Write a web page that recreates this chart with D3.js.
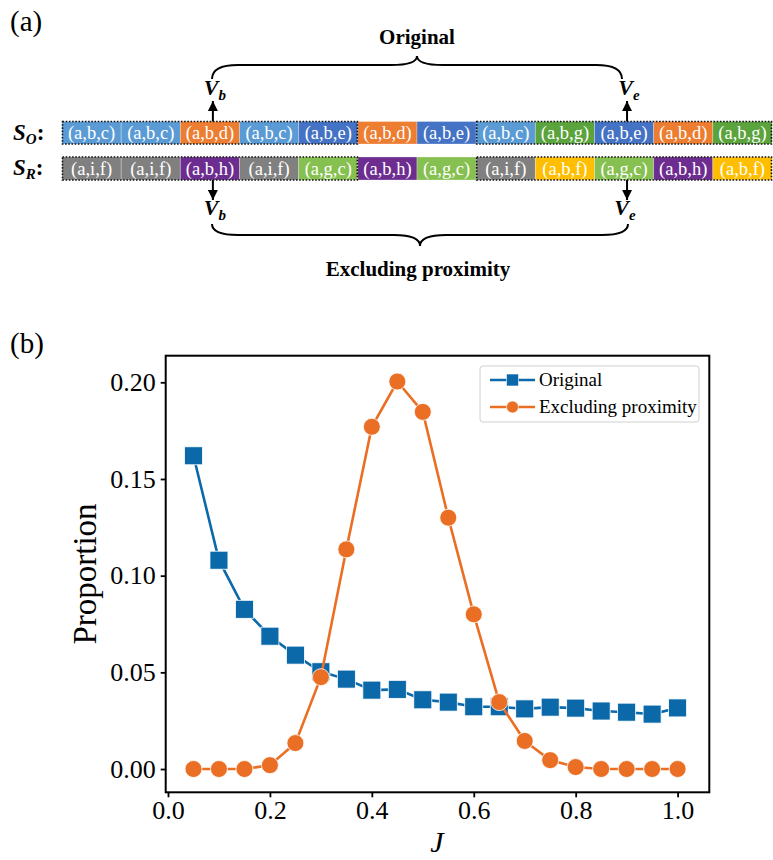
<!DOCTYPE html>
<html><head><meta charset="utf-8">
<script src="https://cdn.jsdelivr.net/npm/d3@7"></script>
<style>body{margin:0;background:#fff}svg{display:block}
svg text{font-family:"Liberation Serif","Times New Roman",Times,serif;}</style>
</head><body>
<script>
// ---- Data ----
const soLabels = ["(a,b,c)","(a,b,c)","(a,b,d)","(a,b,c)","(a,b,e)","(a,b,d)","(a,b,e)","(a,b,c)","(a,b,g)","(a,b,e)","(a,b,d)","(a,b,g)"];
const srLabels = ["(a,i,f)","(a,i,f)","(a,b,h)","(a,i,f)","(a,g,c)","(a,b,h)","(a,g,c)","(a,i,f)","(a,b,f)","(a,g,c)","(a,b,h)","(a,b,f)"];
const tupleKeys = ["(a,b,c)","(a,b,d)","(a,b,e)","(a,b,g)","(a,i,f)","(a,b,h)","(a,g,c)","(a,b,f)"];
const tupleColors = ["#5b9bd5","#ed7d31","#4472c4","#5aa33d","#808080","#6d2d90","#85c050","#ffbf00"];
const dottedGroups = [[0,4],[7,11]];

const J = [0.05,0.10,0.15,0.20,0.25,0.30,0.35,0.40,0.45,0.50,0.55,0.60,0.65,0.70,0.75,0.80,0.85,0.90,0.95,1.00];
const original = [0.162,0.108,0.0826,0.0687,0.0589,0.0503,0.0465,0.0408,0.0412,0.0358,0.0346,0.0322,0.0322,0.0311,0.0320,0.0315,0.0300,0.0294,0.0284,0.0316];
const excluding = [0.0,0.0,0.0,0.0020,0.0134,0.0475,0.1136,0.177,0.2004,0.1847,0.130,0.080,0.0346,0.0145,0.0046,0.0010,0.0,0.0,0.0,0.0];
const xTicks = [0.0,0.2,0.4,0.6,0.8,1.0];
const yTicks = [0.00,0.05,0.10,0.15,0.20];
const seriesNames = ["Original","Excluding proximity"];

const W = 773, H = 860;
const serif = "Liberation Serif, Times New Roman, serif";
const svg = d3.select("body").append("svg").attr("width",W).attr("height",H)
  .attr("font-family",serif);

// ---------- Panel (a) ----------
svg.append("text").attr("x",10).attr("y",31).attr("font-size",29).text("(a)");
const color = d3.scaleOrdinal().domain(tupleKeys).range(tupleColors);
const bx = d3.scaleBand().domain(d3.range(soLabels.length)).range([62,772]).padding(0);
const rows = [{labels:soLabels,y0:121.5,y1:144,sub:"O",ly:140},{labels:srLabels,y0:157,y1:180,sub:"R",ly:175}];
rows.forEach(r=>{
  const g = svg.append("g");
  g.selectAll("rect").data(r.labels).join("rect")
    .attr("x",(d,i)=>bx(i)).attr("y",r.y0).attr("width",bx.bandwidth()).attr("height",r.y1-r.y0)
    .attr("fill",d=>color(d)).attr("stroke","rgba(255,255,255,0.35)").attr("stroke-width",0.8);
  g.selectAll("text").data(r.labels).join("text")
    .attr("x",(d,i)=>bx(i)+bx.bandwidth()/2).attr("y",(r.y0+r.y1)/2+6)
    .attr("text-anchor","middle").attr("fill","#fff").attr("font-size",18.5).text(d=>d);
  dottedGroups.forEach(([a,b])=>{
    g.append("rect").attr("x",bx(a)+0.5).attr("y",r.y0).attr("width",bx(b)+bx.bandwidth()-bx(a)-1).attr("height",r.y1-r.y0)
      .attr("fill","none").attr("stroke","#111").attr("stroke-width",1.6).attr("stroke-dasharray","1.6,1.6");
  });
  const t = svg.append("text").attr("x",13).attr("y",r.ly).attr("font-size",23).attr("font-weight","bold").attr("font-style","italic");
  t.append("tspan").text("S");
  t.append("tspan").attr("font-size",15).attr("dy",4).text(r.sub);
  t.append("tspan").attr("dy",-4).attr("font-style","normal").text(":");
});

// arrows
const defs = svg.append("defs");
defs.append("marker").attr("id","ah").attr("viewBox","0 0 10 10").attr("refX",10).attr("refY",5)
  .attr("markerWidth",5).attr("markerHeight",5).attr("orient","auto-start-reverse")
  .append("path").attr("d","M0,0 L10,5 L0,10 z").attr("fill","#000");
const vbX = bx(2)+ (bx(3)-bx(2))*0.55, veX = bx(9)+bx.bandwidth()*0.55;
[[vbX,121.5,101],[veX,121.5,101],[vbX,180,200],[veX,180,200]].forEach(([x,y0,y1])=>{
  svg.append("line").attr("x1",x).attr("x2",x).attr("y1",y0).attr("y2",y1)
    .attr("stroke","#000").attr("stroke-width",2).attr("marker-end","url(#ah)");
});
function vlabel(x,y,sub){
  const t = svg.append("text").attr("x",x).attr("y",y).attr("text-anchor","middle")
    .attr("font-size",22).attr("font-weight","bold").attr("font-style","italic");
  t.append("tspan").text("V");
  t.append("tspan").attr("font-size",15).attr("dy",5).text(sub);
}
vlabel(vbX+2,95,"b"); vlabel(veX+2,95,"e"); vlabel(vbX+2,215,"b"); vlabel(veX-2,215,"e");

function brace(x1,x2,yEnd,yMid,yTip,r){
  const xc=(x1+x2)/2;
  return `M${x1},${yEnd} Q${x1},${yMid} ${x1+r},${yMid} L${xc-r},${yMid} Q${xc},${yMid} ${xc},${yTip} Q${xc},${yMid} ${xc+r},${yMid} L${x2-r},${yMid} Q${x2},${yMid} ${x2},${yEnd}`;
}
svg.append("path").attr("d",brace(212,622,79,65,56,26)).attr("fill","none").attr("stroke","#000").attr("stroke-width",2);
svg.append("path").attr("d",brace(212,628,224,235,246,26)).attr("fill","none").attr("stroke","#000").attr("stroke-width",2);
svg.append("text").attr("x",417).attr("y",44).attr("text-anchor","middle").attr("font-size",21).attr("font-weight","bold").text("Original");
svg.append("text").attr("x",418).attr("y",276).attr("text-anchor","middle").attr("font-size",21).attr("font-weight","bold").text("Excluding proximity");

// ---------- Panel (b) ----------
svg.append("text").attr("x",10).attr("y",353).attr("font-size",29).text("(b)");
const L=165.7, R=709.3, T=355.7, B=792.3;
const x = d3.scaleLinear().domain([-0.0045,1.0622]).range([L,R]);
const y = d3.scaleLinear().domain([-0.01204,0.21376]).range([B,T]);

const xAxis = svg.append("g").attr("transform",`translate(0,${B})`)
  .call(d3.axisBottom(x).tickValues(xTicks).tickFormat(d3.format(".1f")).tickSize(5).tickPadding(3));
const yAxis = svg.append("g").attr("transform",`translate(${L},0)`)
  .call(d3.axisLeft(y).tickValues(yTicks).tickFormat(d3.format(".2f")).tickSize(5).tickPadding(5));
[xAxis,yAxis].forEach(a=>{
  a.attr("font-family",serif).attr("font-size",26);
  a.select(".domain").remove();
  a.selectAll(".tick line").attr("stroke","#000").attr("stroke-width",1.8);
  a.selectAll(".tick text").attr("fill","#000");
});
svg.append("rect").attr("x",L).attr("y",T).attr("width",R-L).attr("height",B-T)
  .attr("fill","none").attr("stroke","#000").attr("stroke-width",2);

svg.append("text").attr("transform",`translate(96,574) rotate(-90)`).attr("text-anchor","middle")
  .attr("font-size",33).text("Proportion");
svg.append("text").attr("x",437).attr("y",852).attr("text-anchor","middle")
  .attr("font-size",30).attr("font-style","italic").text("J");

const blue="#0b69aa", orange="#ea6f24";
const line = d3.line().x(d=>x(d[0])).y(d=>y(d[1]));
const oData = J.map((j,i)=>[j,original[i]]);
const eData = J.map((j,i)=>[j,excluding[i]]);
const plot = svg.append("g");
plot.append("path").datum(oData).attr("d",line).attr("fill","none").attr("stroke",blue).attr("stroke-width",2.6);
plot.selectAll("rect.sq").data(oData).join("rect").attr("class","sq")
  .attr("x",d=>x(d[0])-9).attr("y",d=>y(d[1])-9).attr("width",18).attr("height",18)
  .attr("fill",blue).attr("stroke","#fff").attr("stroke-width",0.8);
plot.append("path").datum(eData).attr("d",line).attr("fill","none").attr("stroke",orange).attr("stroke-width",2.6);
plot.selectAll("circle.ci").data(eData).join("circle").attr("class","ci")
  .attr("cx",d=>x(d[0])).attr("cy",d=>y(d[1])).attr("r",8.5)
  .attr("fill",orange).attr("stroke","#fff").attr("stroke-width",0.8);

// legend
const lg = svg.append("g");
lg.append("rect").attr("x",480).attr("y",366).attr("width",219).attr("height",56).attr("rx",3)
  .attr("fill","#fff").attr("fill-opacity",0.8).attr("stroke","#d0d0d0").attr("stroke-width",1);
seriesNames.forEach((n,i)=>{
  const yy = 380 + i*27, c = i===0?blue:orange;
  lg.append("line").attr("x1",490).attr("x2",535).attr("y1",yy).attr("y2",yy).attr("stroke",c).attr("stroke-width",2.6);
  if(i===0) lg.append("rect").attr("x",506.5).attr("y",yy-6).attr("width",12).attr("height",12).attr("fill",c).attr("stroke","#fff").attr("stroke-width",0.6);
  else lg.append("circle").attr("cx",512.5).attr("cy",yy).attr("r",6).attr("fill",c).attr("stroke","#fff").attr("stroke-width",0.6);
  lg.append("text").attr("x",539).attr("y",yy+6).attr("font-size",19).text(n);
});
</script>
</body></html>
